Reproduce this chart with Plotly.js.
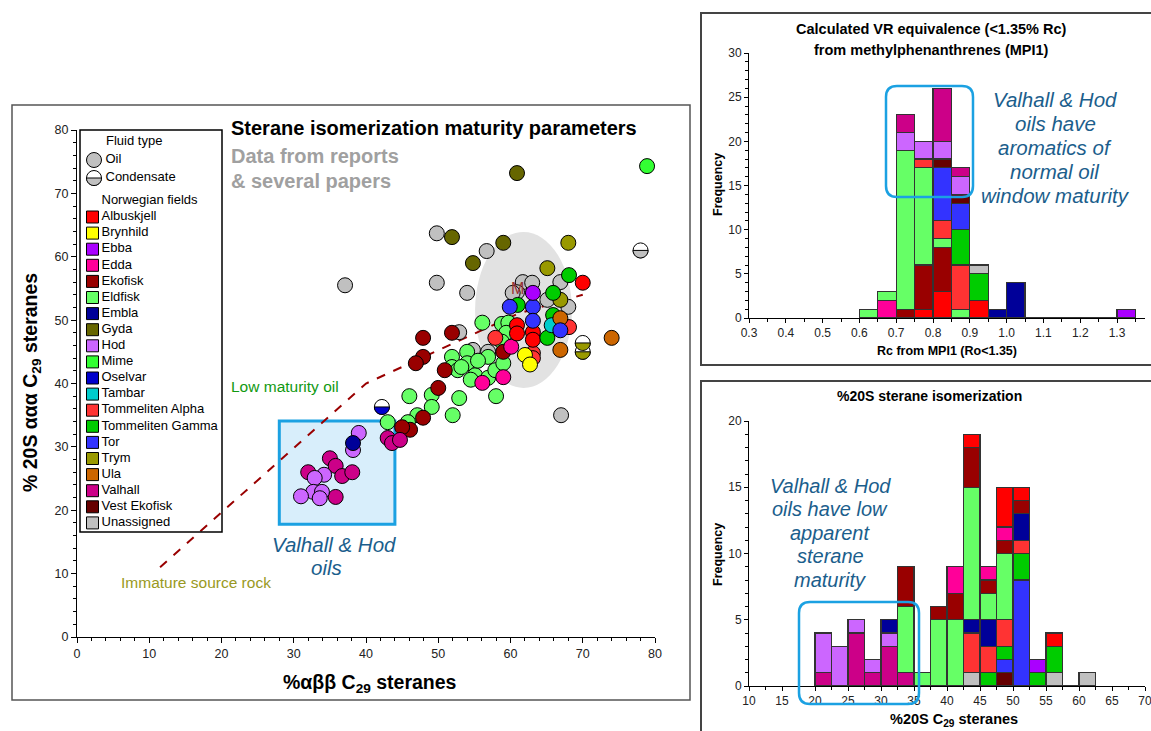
<!DOCTYPE html>
<html><head><meta charset="utf-8">
<script src="https://cdn.plot.ly/plotly-3.0.1.min.js"></script>
<style>html,body{margin:0;padding:0;background:#fff;overflow:hidden}#chart{width:1151px;height:731px}</style>
</head><body><div id="chart"></div>
<script>
const W = 1151, H = 731;
const FONT = 'Liberation Sans, Arial, sans-serif';

// ---------- categories ----------
const fields = ['Albuskjell','Brynhild','Ebba','Edda','Ekofisk','Eldfisk','Embla','Gyda','Hod','Mime','Oselvar','Tambar','Tommeliten Alpha','Tommeliten Gamma','Tor','Trym','Ula','Valhall','Vest Ekofisk','Unassigned'];
const fieldColors = ['#ff0000','#ffff00','#aa00ff','#ff0099','#990000','#66ff66','#000099','#666600','#cc66ff','#33ff33','#0000cc','#00cccc','#ff3333','#00cc00','#3333ff','#999900','#cc6600','#cc0088','#660000','#c0c0c0'];
const colorOf = f => fieldColors[fields.indexOf(f)];

// ---------- main scatter: oils (%abb C29 , %20S aaa C29) ----------
const unassignedX = [49.8, 37.1, 49.8, 54.0, 56.7, 61.7, 63.0, 60.9, 60.3, 65.1, 66.9, 68.0, 67.0, 52.9, 56.9, 54.8];
const unassignedY = [63.7, 55.5, 55.9, 54.3, 60.9, 56.0, 55.9, 54.4, 54.3, 53.2, 56.0, 52.1, 35.0, 48.1, 45.0, 45.3];
const gydaX = [60.9, 51.9, 54.8, 59.0];
const gydaY = [73.2, 63.1, 59.0, 62.2];
const trymX = [68.0, 65.1, 66.9];
const trymY = [62.2, 58.2, 53.2];
const mimeX = [78.9];
const mimeY = [74.3];
const eldfiskX = [56.1, 58.8, 59.7, 59.4, 58.8, 51.9, 54.0, 51.9, 52.7, 54.0, 55.1, 56.9, 57.9, 56.9, 59.0, 53.2, 55.5, 46.0, 49.1, 49.1, 52.9, 58.0, 52.0, 47.1, 45.8, 43.0, 54.5];
const eldfiskY = [49.6, 49.4, 49.6, 48.0, 46.6, 44.2, 45.0, 42.6, 42.1, 43.2, 41.3, 40.9, 42.1, 44.2, 43.2, 42.6, 43.6, 38.0, 38.2, 36.3, 37.7, 38.0, 35.0, 35.0, 33.9, 33.9, 40.6];
const ekofiskX = [59.0, 51.9, 47.9, 47.9, 46.9, 50.9, 50.0, 47.9, 46.1, 45.0];
const ekofiskY = [45.0, 48.0, 47.2, 44.2, 43.2, 42.1, 39.3, 34.6, 32.7, 33.1];
const eddaX = [60.1, 59.0, 56.1];
const eddaY = [45.8, 41.0, 40.1];
const tomAlphaX = [68.1, 57.9, 63.1, 63.1];
const tomAlphaY = [48.9, 47.2, 44.8, 44.0];
const albuskjellX = [70.0, 60.9, 60.9, 63.1, 63.1];
const albuskjellY = [55.9, 49.2, 47.9, 48.1, 46.9];
const brynhildX = [62.0, 62.7];
const brynhildY = [44.5, 43.0];
const tomGammaX = [68.1, 65.9, 61.0, 65.9, 65.1];
const tomGammaY = [57.1, 54.3, 52.4, 50.8, 47.2];
const tambarX = [65.7];
const tambarY = [49.2];
const ulaX = [66.9, 66.9, 74.0];
const ulaY = [50.3, 45.3, 47.2];
const torX = [59.9, 63.1, 63.1, 66.9];
const torY = [52.1, 52.1, 49.9, 48.4];
const ebbaX = [63.1];
const ebbaY = [54.3];
const valhallX = [35.0, 35.8, 36.7, 38.1, 32.0, 35.8, 43.0, 43.6, 44.7];
const valhallY = [28.2, 27.0, 25.4, 26.0, 26.0, 22.1, 31.4, 30.6, 31.1];
const hodX = [39.0, 38.2, 34.2, 32.9, 32.7, 33.9, 31.0, 33.6];
const hodY = [32.2, 29.5, 25.6, 25.1, 22.9, 22.9, 22.2, 21.9];
const emblaX = [38.2];
const emblaY = [30.6];
// condensates
const condX = [78.0, 42.2, 70.0, 70.0];
const condY = [61.0, 36.3, 46.4, 45.0];
const condField = ['Unassigned', 'Oselvar', 'Trym', 'Trym'];
// maturity trend line
const trendX = [11.5, 40, 61, 70];
const trendY = [11, 40, 51, 54];

// ---------- histogram 1: Rc from MPI1 ----------
const mpiBins = [0.625,0.675,0.725,0.775,0.825,0.875,0.925,0.975,1.025,1.075,1.125,1.175,1.225,1.275,1.325];
const mpiOrder = ['Albuskjell','Edda','Ekofisk','Eldfisk','Tommeliten Alpha','Tommeliten Gamma','Tor','Vest Ekofisk','Hod','Valhall','Unassigned','Embla','Ebba'];
const mpiAlbuskjell = [0,0,0,1,3,0,2,0,0,0,0,0,0,0,0];
const mpiEdda       = [0,2,0,0,0,0,0,0,0,0,0,0,0,0,0];
const mpiEkofisk    = [0,0,1,5,5,0,0,0,0,0,0,0,0,0,0];
const mpiEldfisk    = [1,1,18,11,1,1,0,0,0,0,0,0,0,0,0];
const mpiTomAlpha   = [0,0,0,1,2,5,0,0,0,0,0,0,0,0,0];
const mpiTomGamma   = [0,0,0,0,0,4,3,0,0,0,0,0,0,0,0];
const mpiTor        = [0,0,0,0,6,3,0,0,0,0,0,0,0,0,0];
const mpiVestEko    = [0,0,0,0,1,1,0,0,0,0,0,0,0,0,0];
const mpiHod        = [0,0,2,2,2,2,0,0,0,0,0,0,0,0,0];
const mpiValhall    = [0,0,2,0,6,1,0,0,0,0,0,0,0,0,0];
const mpiUnassigned = [0,0,0,0,0,0,1,0,0,0,0,0,0,0,0];
const mpiEmbla      = [0,0,0,0,0,0,0,1,4,0,0,0,0,0,0];
const mpiEbba       = [0,0,0,0,0,0,0,0,0,0,0,0,0,0,1];
const mpiCounts = [mpiAlbuskjell,mpiEdda,mpiEkofisk,mpiEldfisk,mpiTomAlpha,mpiTomGamma,mpiTor,mpiVestEko,mpiHod,mpiValhall,mpiUnassigned,mpiEmbla,mpiEbba];

// ---------- histogram 2: %20S C29 steranes ----------
const steBins = [21.25,23.75,26.25,28.75,31.25,33.75,36.25,38.75,41.25,43.75,46.25,48.75,51.25,53.75,56.25,58.75,61.25];
const steOrder = ['Unassigned','Vest Ekofisk','Valhall','Hod','Tor','Tommeliten Gamma','Tommeliten Alpha','Embla','Eldfisk','Ekofisk','Edda','Albuskjell','Ebba'];
const steUnassigned = [0,0,0,0,0,0,0,0,0,1,0,0,0,0,1,0,1];
const steVestEko    = [0,0,0,0,0,0,0,0,0,0,0,1,0,0,0,0,0];
const steValhall    = [1,0,4,1,3,1,0,0,0,0,0,0,0,0,0,0,0];
const steHod        = [3,3,1,1,1,0,0,0,0,0,0,0,0,0,0,0,0];
const steTor        = [0,0,0,0,0,0,0,0,0,0,0,1,8,0,0,0,0];
const steTomGamma   = [0,0,0,0,0,0,0,0,0,0,1,1,2,1,2,0,0];
const steTomAlpha   = [0,0,0,0,0,0,0,0,0,3,2,2,1,0,0,0,0];
const steEmbla      = [0,0,0,0,1,0,0,0,0,1,2,0,2,0,0,0,0];
const steEldfisk    = [0,0,0,0,0,5,1,5,5,10,2,5,0,0,0,0,0];
const steEkofisk    = [0,0,0,0,0,3,0,1,2,3,1,1,1,0,0,0,0];
const steEdda       = [0,0,0,0,0,0,0,0,2,0,1,1,0,0,0,0,0];
const steAlbuskjell = [0,0,0,0,0,0,0,0,0,1,0,3,1,0,1,0,0];
const steEbba       = [0,0,0,0,0,0,0,0,0,0,0,0,0,1,0,0,0];
const steCounts = [steUnassigned,steVestEko,steValhall,steHod,steTor,steTomGamma,steTomAlpha,steEmbla,steEldfisk,steEkofisk,steEdda,steAlbuskjell,steEbba];

// ---------- helpers ----------
const PX = p => p / W;
const PY = p => 1 - p / H;
function ann(text, px, py, o) {
  o = o || {};
  return {text, xref:'paper', yref:'paper', x:PX(px), y:PY(py), showarrow:false,
    xanchor:o.xanchor||'center', yanchor:'middle', textangle:o.angle||0,
    font:{family:FONT, size:o.size||12, color:o.color||'#000', weight:o.weight||'normal', style:o.style||'normal'}};
}
function roundRect(l,t,r,b,rr){
  const P=(x,y)=>PX(x).toFixed(5)+','+PY(y).toFixed(5);
  return 'M '+P(l+rr,t)+' L '+P(r-rr,t)+' Q '+P(r,t)+' '+P(r,t+rr)+' L '+P(r,b-rr)+' Q '+P(r,b)+' '+P(r-rr,b)+
    ' L '+P(l+rr,b)+' Q '+P(l,b)+' '+P(l,b-rr)+' L '+P(l,t+rr)+' Q '+P(l,t)+' '+P(l+rr,t)+' Z';
}
function halfDisc(r){
  let s='M '+(-r)+',0';
  for(let a=180;a<=360;a+=10){const t=a*Math.PI/180;s+=' L '+(r*Math.cos(t)).toFixed(2)+','+(r*Math.sin(t)).toFixed(2);}
  return s+' Z';
}

const traces = [];
// trend line
traces.push({x:trendX, y:trendY, xaxis:'x', yaxis:'y', mode:'lines', line:{color:'#990000', width:2, dash:'dash'}, hoverinfo:'skip'});

const scatterSets = [
  ['Unassigned',unassignedX,unassignedY],['Gyda',gydaX,gydaY],['Trym',trymX,trymY],['Mime',mimeX,mimeY],
  ['Eldfisk',eldfiskX,eldfiskY],['Ekofisk',ekofiskX,ekofiskY],['Edda',eddaX,eddaY],
  ['Tommeliten Alpha',tomAlphaX,tomAlphaY],['Albuskjell',albuskjellX,albuskjellY],['Brynhild',brynhildX,brynhildY],
  ['Tommeliten Gamma',tomGammaX,tomGammaY],['Tambar',tambarX,tambarY],['Ula',ulaX,ulaY],['Tor',torX,torY],
  ['Ebba',ebbaX,ebbaY],['Valhall',valhallX,valhallY],['Hod',hodX,hodY],['Embla',emblaX,emblaY]
];
scatterSets.forEach(([name,xs,ys])=>{
  traces.push({x:xs, y:ys, xaxis:'x', yaxis:'y', mode:'markers', name,
    marker:{size:15, color:colorOf(name), line:{color:'#000', width:1}}, cliponaxis:false, hoverinfo:'skip'});
});
// condensate (white top; colored lower half drawn as shapes)
traces.push({x:condX, y:condY, xaxis:'x', yaxis:'y', mode:'markers',
  marker:{size:15, color:'#ffffff', line:{color:'#000', width:1}}, cliponaxis:false, hoverinfo:'skip'});

// custom legend on its own hidden axes (pixel-like units)
const legY0 = 87, legStep = 16.1;
traces.push({x:fields.map(()=>12.5), y:fields.map((f,i)=>legY0+legStep*i), xaxis:'x2', yaxis:'y2', mode:'markers',
  marker:{symbol:'square', size:12, color:fieldColors, line:{color:'#000', width:1}}, cliponaxis:false, hoverinfo:'skip'});
traces.push({x:fields.map(()=>21.5), y:fields.map((f,i)=>legY0+legStep*i), xaxis:'x2', yaxis:'y2', mode:'text',
  text:fields, textposition:'middle right', textfont:{family:FONT, size:13, color:'#000'}, cliponaxis:false, hoverinfo:'skip'});
const legHead = ['Fluid type','Oil','Condensate','Norwegian fields'];
traces.push({x:[26,25.5,25.5,21.5], y:[12,30,48,71], xaxis:'x2', yaxis:'y2', mode:'text', text:legHead,
  textposition:'middle right', textfont:{family:FONT, size:13, color:'#000'}, cliponaxis:false, hoverinfo:'skip'});
traces.push({x:[14,14], y:[30,48], xaxis:'x2', yaxis:'y2', mode:'markers',
  marker:{size:15, color:['#c0c0c0','#ffffff'], line:{color:'#000', width:1}}, cliponaxis:false, hoverinfo:'skip'});

// histograms
mpiOrder.forEach((name,i)=>{
  traces.push({type:'bar', x:mpiBins, y:mpiCounts[i], width:0.05, xaxis:'x3', yaxis:'y3', name,
    marker:{color:colorOf(name), line:{color:'#333', width:1.3}}, hoverinfo:'skip'});
});
steOrder.forEach((name,i)=>{
  traces.push({type:'bar', x:steBins, y:steCounts[i], width:2.5, xaxis:'x4', yaxis:'y4', name,
    marker:{color:colorOf(name), line:{color:'#333', width:1.3}}, hoverinfo:'skip'});
});

// ---------- axes ----------
const tf = {family:FONT, size:12.5, color:'#222'};
function ax(domain, range, dtick, minor, anchor, extra){
  return Object.assign({domain, range, anchor, dtick, tick0:range[0], showline:true, linecolor:'#000', linewidth:1,
    ticks:'outside', ticklen:5, tickwidth:1, tickcolor:'#000', showgrid:false, zeroline:false, tickfont:tf,
    ticklabeloverflow:'allow',
    minor:{dtick:minor, ticks:'outside', ticklen:3, tickcolor:'#000', showgrid:false}, fixedrange:true}, extra||{});
}

const shapes = [
  {type:'rect', xref:'paper', yref:'paper', x0:PX(12), x1:PX(690), y0:PY(700), y1:PY(105), line:{color:'#555', width:1.5}},
  {type:'rect', xref:'paper', yref:'paper', x0:PX(701), x1:PX(1160), y0:PY(365), y1:PY(13), line:{color:'#444', width:2}},
  {type:'rect', xref:'paper', yref:'paper', x0:PX(701), x1:PX(1160), y0:PY(745), y1:PY(381), line:{color:'#444', width:2}},
  {type:'circle', xref:'x', yref:'y', x0:55.1, x1:68.5, y0:39.3, y1:63.9, layer:'below', fillcolor:'#e2e2e2', line:{width:0}},
  {type:'rect', xref:'x', yref:'y', x0:28, x1:44, y0:17.8, y1:34.1, layer:'below', fillcolor:'#d8eefb', line:{color:'#1ba1e2', width:3}},
  {type:'rect', xref:'paper', yref:'paper', x0:PX(80), x1:PX(222), y0:PY(532), y1:PY(130), line:{color:'#000', width:1.5}},
  {type:'path', xref:'paper', yref:'paper', path:roundRect(886,86,973,197,11), line:{color:'#1ba1e2', width:2.5}},
  {type:'path', xref:'paper', yref:'paper', path:roundRect(799,602,919,704,11), line:{color:'#1ba1e2', width:2.5}}
];
condX.forEach((cx,i)=>{
  shapes.push({type:'path', xref:'x', yref:'y', xsizemode:'pixel', ysizemode:'pixel', xanchor:cx, yanchor:condY[i],
    path:halfDisc(7.5), fillcolor:colorOf(condField[i]), line:{color:'#000', width:1}});
});
shapes.push({type:'path', xref:'x2', yref:'y2', xsizemode:'pixel', ysizemode:'pixel', xanchor:14, yanchor:48,
  path:halfDisc(7.5), fillcolor:'#c0c0c0', line:{color:'#000', width:1}});

const blue = '#1b5e8c';
const annotations = [
  ann('Sterane isomerization maturity parameters', 229, 128, {xanchor:'left', size:20, weight:'bold'}),
  ann('Data from reports', 229, 156, {xanchor:'left', size:20, weight:'bold', color:'#a0a0a0'}),
  ann('&amp; several papers', 229, 181, {xanchor:'left', size:20, weight:'bold', color:'#a0a0a0'}),
  ann('Low maturity oil', 229, 386, {xanchor:'left', size:15.5, color:'#119911'}),
  ann('Immature source rock', 119, 582, {xanchor:'left', size:15.5, color:'#999922'}),
  ann('Valhall &amp; Hod', 334, 544, {size:20.5, style:'italic', color:blue}),
  ann('oils', 326, 567, {size:20.5, style:'italic', color:blue}),
  ann('M', 517, 288, {size:16, color:'#993333'}),
  ann('%αββ C<sub>29</sub> steranes', 370, 683, {size:19.5, weight:'bold'}),
  ann('% 20S ααα C<sub>29</sub> steranes', 32, 383, {size:19.5, weight:'bold', angle:-90}),
  // top-right histogram
  ann('Calculated VR equivalence (&lt;1.35% Rc)', 931, 29, {size:14.5, weight:'bold'}),
  ann('from methylphenanthrenes (MPI1)', 931, 50, {size:14.5, weight:'bold'}),
  ann('Frequency', 718, 185, {size:12.5, weight:'bold', angle:-90}),
  ann('Rc from MPI1 (Ro&lt;1.35)', 947, 351, {size:12.5, weight:'bold'}),
  ann('Valhall &amp; Hod', 1055, 100, {size:20.5, style:'italic', color:blue}),
  ann('oils have', 1055, 123, {size:20.5, style:'italic', color:blue}),
  ann('aromatics of', 1055, 147, {size:20.5, style:'italic', color:blue}),
  ann('normal oil', 1055, 171, {size:20.5, style:'italic', color:blue}),
  ann('window maturity', 1055, 195, {size:20.5, style:'italic', color:blue}),
  // bottom-right histogram
  ann('%20S sterane isomerization', 929, 396, {size:14, weight:'bold'}),
  ann('Frequency', 718, 555, {size:12.5, weight:'bold', angle:-90}),
  ann('%20S C<sub>29</sub> steranes', 954, 720, {size:14.5, weight:'bold'}),
  ann('Valhall &amp; Hod', 830, 486, {size:20, style:'italic', color:blue}),
  ann('oils have low', 830, 509, {size:20, style:'italic', color:blue}),
  ann('apparent', 830, 533, {size:20, style:'italic', color:blue}),
  ann('sterane', 830, 556, {size:20, style:'italic', color:blue}),
  ann('maturity', 830, 580, {size:20, style:'italic', color:blue})
];

const layout = {
  width:W, height:H, margin:{l:0,r:0,t:0,b:0}, paper_bgcolor:'#fff', plot_bgcolor:'rgba(0,0,0,0)',
  showlegend:false, barmode:'stack', bargap:0, font:{family:FONT, color:'#000'},
  xaxis: ax([PX(77),PX(655)], [0,80], 10, 2, 'y'),
  yaxis: ax([PY(637),PY(130)], [0,80], 10, 2, 'x'),
  xaxis2:{domain:[PX(80),PX(222)], range:[0,142], anchor:'y2', visible:false, fixedrange:true},
  yaxis2:{domain:[PY(532),PY(130)], range:[402,0], anchor:'x2', visible:false, fixedrange:true},
  xaxis3: ax([PX(749),PX(1145)], [0.3,1.376], 0.1, 0.05, 'y3', {tickformat:'.1f', ticklen:4, tickfont:{family:FONT,size:12,color:'#222'}}),
  yaxis3: ax([PY(318),PY(53)], [0,30], 5, 1, 'x3', {ticklen:4, tickfont:{family:FONT,size:12,color:'#222'}}),
  xaxis4: ax([PX(749),PX(1145)], [10,70], 5, 2.5, 'y4', {ticklen:4, tickfont:{family:FONT,size:12,color:'#222'}}),
  yaxis4: ax([PY(686),PY(421)], [0,20], 5, 1, 'x4', {ticklen:4, tickfont:{family:FONT,size:12,color:'#222'}}),
  shapes, annotations
};
Plotly.newPlot('chart', traces, layout, {staticPlot:true, displayModeBar:false});
</script></body></html>
